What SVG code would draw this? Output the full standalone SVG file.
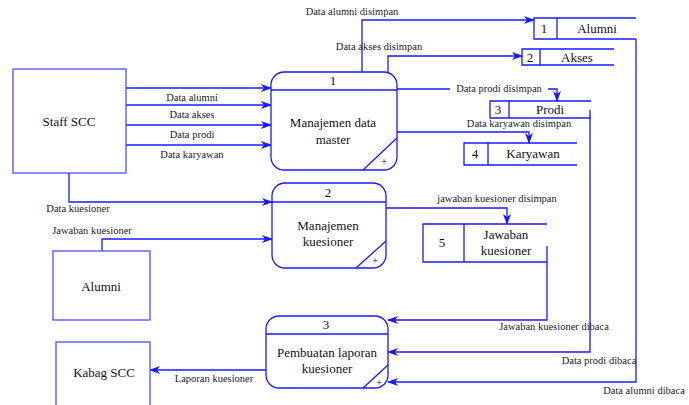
<svg xmlns="http://www.w3.org/2000/svg" width="689" height="405" viewBox="0 0 689 405" font-family="Liberation Serif, Times New Roman, serif">
<style>
.ent{fill:#fff;stroke:#4d4dff;stroke-width:1.3}
.proc{fill:#fff;stroke:#1a1aff;stroke-width:1.3}
.ln{fill:none;stroke:#1a1aff;stroke-width:1.3}
.con{fill:none;stroke:#1a1aff;stroke-width:1.3}
.nt{font-size:13px;fill:#111;text-anchor:middle}
.lt{font-size:10.5px;fill:#222;text-anchor:middle}
</style>
<defs>
<marker id="ah" markerWidth="11" markerHeight="8" refX="10" refY="4" orient="auto" markerUnits="userSpaceOnUse">
<path d="M0,0 L11,4 L0,8 L3,4 Z" fill="#1a1aff"/>
</marker>
</defs>
<rect width="689" height="405" fill="#fff"/>

<g id="connectors">
<path class="con" d="M126 88 H271" marker-end="url(#ah)"/>
<path class="con" d="M126 105 H271" marker-end="url(#ah)"/>
<path class="con" d="M126 125 H271" marker-end="url(#ah)"/>
<path class="con" d="M126 145 H271" marker-end="url(#ah)"/>
<path class="con" d="M362 72 V20 H534" marker-end="url(#ah)"/>
<path class="con" d="M388 72 V56 H522" marker-end="url(#ah)"/>
<path class="con" d="M397 89 H557 V101" marker-end="url(#ah)"/>
<path class="con" d="M397 132 H529 V143" marker-end="url(#ah)"/>
<path class="con" d="M69 173 V202 H272" marker-end="url(#ah)"/>
<path class="con" d="M102 251 V239 H272" marker-end="url(#ah)"/>
<path class="con" d="M386 208 H507 V224" marker-end="url(#ah)"/>
<path class="con" d="M547 246 V320 H388" marker-end="url(#ah)"/>
<path class="con" d="M590 110 V352 H388" marker-end="url(#ah)"/>
<path class="con" d="M636 39 V382 H388" marker-end="url(#ah)"/>
<path class="con" d="M266 370 H150" marker-end="url(#ah)"/>
<text class="lt" x="352" y="15">Data alumni disimpan</text>
<text class="lt" x="379" y="50">Data akses disimpan</text>
<rect x="450" y="83" width="98" height="11" fill="#fff"/>
<text class="lt" x="499" y="92">Data prodi disimpan</text>
<text class="lt" x="519" y="127">Data karyawan disimpan</text>
<text class="lt" x="192" y="101">Data alumni</text>
<text class="lt" x="192" y="118">Data akses</text>
<text class="lt" x="192" y="138">Data prodi</text>
<text class="lt" x="192" y="158">Data karyawan</text>
<text class="lt" x="78" y="212">Data kuesioner</text>
<text class="lt" x="92" y="234">Jawaban kuesioner</text>
<text class="lt" x="497" y="202">jawaban kuesioner disimpan</text>
<text class="lt" x="554" y="330">Jawaban kuesioner dibaca</text>
<text class="lt" x="599" y="364">Data prodi dibaca</text>
<text class="lt" x="644" y="394">Data alumni dibaca</text>
<text class="lt" x="214" y="382">Laporan kuesioner</text>
</g>

<g id="staff-scc">
<rect class="ent" x="13" y="69" width="113" height="104"/>
<text class="nt" x="69" y="126">Staff SCC</text>
</g>
<g id="alumni">
<rect class="ent" x="53" y="251" width="97" height="69"/>
<text class="nt" x="101" y="291">Alumni</text>
</g>
<g id="kabag-scc">
<rect class="ent" x="56" y="342" width="94" height="70"/>
<text class="nt" x="104" y="377">Kabag SCC</text>
</g>

<g id="p1">
<rect class="proc" x="271" y="72" width="126" height="98" rx="13"/>
<path class="ln" d="M271 90 H397 M363 170 L397 138"/>
<text class="nt" x="333" y="85">1</text>
<text class="nt" x="333" y="127">Manajemen data</text>
<text class="nt" x="333" y="144">master</text>
<text class="nt" x="384" y="165" style="font-size:11px">+</text>
</g>
<g id="p2">
<rect class="proc" x="272" y="183" width="114" height="85" rx="13"/>
<path class="ln" d="M272 202 H386 M356 268 L386 241"/>
<text class="nt" x="328" y="197">2</text>
<text class="nt" x="328" y="230">Manajemen</text>
<text class="nt" x="328" y="246">kuesioner</text>
<text class="nt" x="375" y="264" style="font-size:11px">+</text>
</g>
<g id="p3">
<rect class="proc" x="266" y="316" width="122" height="72" rx="13"/>
<path class="ln" d="M266 334 H388 M363 388 L388 365"/>
<text class="nt" x="326" y="329">3</text>
<text class="nt" x="327" y="357">Pembuatan laporan</text>
<text class="nt" x="327" y="373">kuesioner</text>
<text class="nt" x="379" y="386" style="font-size:11px">+</text>
</g>

<g id="ds1">
<path class="ln" d="M636 18 H534 V39 H636 M557 18 V39"/>
<text class="nt" x="544" y="33">1</text>
<text class="nt" x="597" y="33">Alumni</text>
</g>
<g id="ds2">
<path class="ln" d="M614 49 H522 V65 H614 M540 49 V65"/>
<text class="nt" x="530" y="62">2</text>
<text class="nt" x="577" y="62">Akses</text>
</g>
<g id="ds3">
<path class="ln" d="M591 101 H490 V118 H591 M509 101 V118"/>
<text class="nt" x="498" y="114">3</text>
<text class="nt" x="550" y="114">Prodi</text>
</g>
<g id="ds4">
<path class="ln" d="M577 143 H464 V165 H577 M488 143 V165"/>
<text class="nt" x="475" y="158">4</text>
<text class="nt" x="533" y="158">Karyawan</text>
</g>
<g id="ds5">
<path class="ln" d="M547 224 H423 V262 H547 M464 224 V262"/>
<text class="nt" x="442" y="247">5</text>
<text class="nt" x="506" y="239">Jawaban</text>
<text class="nt" x="506" y="255">kuesioner</text>
</g>
</svg>
